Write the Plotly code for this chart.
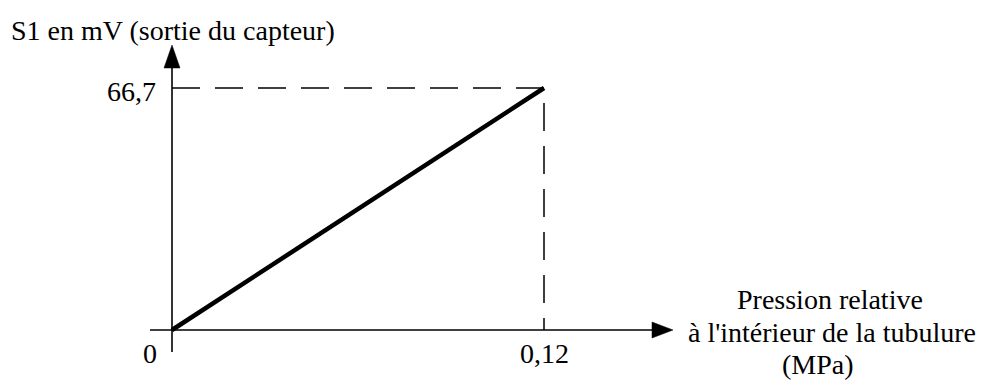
import plotly.graph_objects as go

# data
pression = [0, 0.12]        # MPa
s1 = [0, 66.7]              # mV
x_ticks = [0, 0.12]
x_tick_labels = ["0", "0,12"]
y_tick_labels = ["66,7"]
y_title = "S1 en mV (sortie du capteur)"
x_title = ["Pression relative", "à l'intérieur de la tubulure", "(MPa)"]

# the page body keeps an 8px margin, so the figure is a bit smaller and
# every pixel position below is measured in the window, then shifted
OFF = 8
W, H = 988 - OFF, 380 - OFF
FONT = "Liberation Serif, Times New Roman, serif"
FS = 28

# plot scale: window pixels of the origin and of the top-right point
x0_px, x1_px = 172 - OFF, 544 - OFF
y0_px, y1_px = 330 - OFF, 88 - OFF
kx = (x1_px - x0_px) / (pression[1] - pression[0])
ky = (y0_px - y1_px) / (s1[1] - s1[0])
x_range = [-x0_px / kx, (W - x0_px) / kx]
y_range = [-(H - y0_px) / ky, y0_px / ky]

# axis extents (data units)
x_ax = [-22 / kx, 501 / kx]     # arrow tip at right end
y_ax = [-22 / ky, 285 / ky]     # arrow tip at top
arr_len_x, arr_half_x = 21 / kx, 8 / ky
arr_len_y, arr_half_y = 23 / ky, 8 / kx

fig = go.Figure()

# dashed guides
fig.add_trace(go.Scatter(
    x=[0, pression[1], pression[1]], y=[s1[1], s1[1], 0],
    mode="lines", line=dict(color="black", width=1.5, dash="28px,15px"),
    hoverinfo="skip"))

# the characteristic
fig.add_trace(go.Scatter(
    x=pression, y=s1, mode="lines",
    line=dict(color="black", width=4.5)))

shapes = [
    dict(type="line", x0=x_ax[0], x1=x_ax[1] - arr_len_x, y0=0, y1=0,
         line=dict(color="black", width=1.6)),
    dict(type="line", x0=0, x1=0, y0=y_ax[0], y1=y_ax[1] - arr_len_y,
         line=dict(color="black", width=1.6)),
    dict(type="path",
         path=f"M {x_ax[1]} 0 L {x_ax[1]-arr_len_x} {arr_half_x} "
              f"L {x_ax[1]-arr_len_x} {-arr_half_x} Z",
         fillcolor="black", line=dict(color="black", width=0.5)),
    dict(type="path",
         path=f"M 0 {y_ax[1]} L {arr_half_y} {y_ax[1]-arr_len_y} "
              f"L {-arr_half_y} {y_ax[1]-arr_len_y} Z",
         fillcolor="black", line=dict(color="black", width=0.5)),
]

ann = []
f = dict(family=FONT, size=FS, color="black")
ann.append(dict(x=x_ticks[0], y=0, text=x_tick_labels[0], xshift=-22,
                yshift=-6, xanchor="center", yanchor="top", showarrow=False, font=f))
ann.append(dict(x=x_ticks[1], y=0, text=x_tick_labels[1],
                yshift=-6, xanchor="center", yanchor="top", showarrow=False, font=f))
ann.append(dict(x=0, y=s1[1], text=y_tick_labels[0], xshift=-14, yshift=-3,
                xanchor="right", yanchor="middle", showarrow=False, font=f))
ann.append(dict(xref="paper", yref="paper", x=(9 - OFF) / W, y=1 - (31 - OFF) / H,
                text=y_title, xanchor="left", yanchor="middle", showarrow=False, font=f))
for txt, cx, cy in zip(x_title, [830, 832, 818], [299, 332, 364]):
    ann.append(dict(xref="paper", yref="paper", x=(cx - OFF) / W, y=1 - (cy - OFF) / H,
                    text=txt, xanchor="center", yanchor="middle", showarrow=False, font=f))

fig.update_layout(
    width=W, height=H, margin=dict(l=0, r=0, t=0, b=0),
    plot_bgcolor="white", paper_bgcolor="white", showlegend=False,
    xaxis=dict(range=x_range, visible=False, fixedrange=True),
    yaxis=dict(range=y_range, visible=False, fixedrange=True),
    shapes=shapes, annotations=ann,
)
fig.write_html("out.html")
